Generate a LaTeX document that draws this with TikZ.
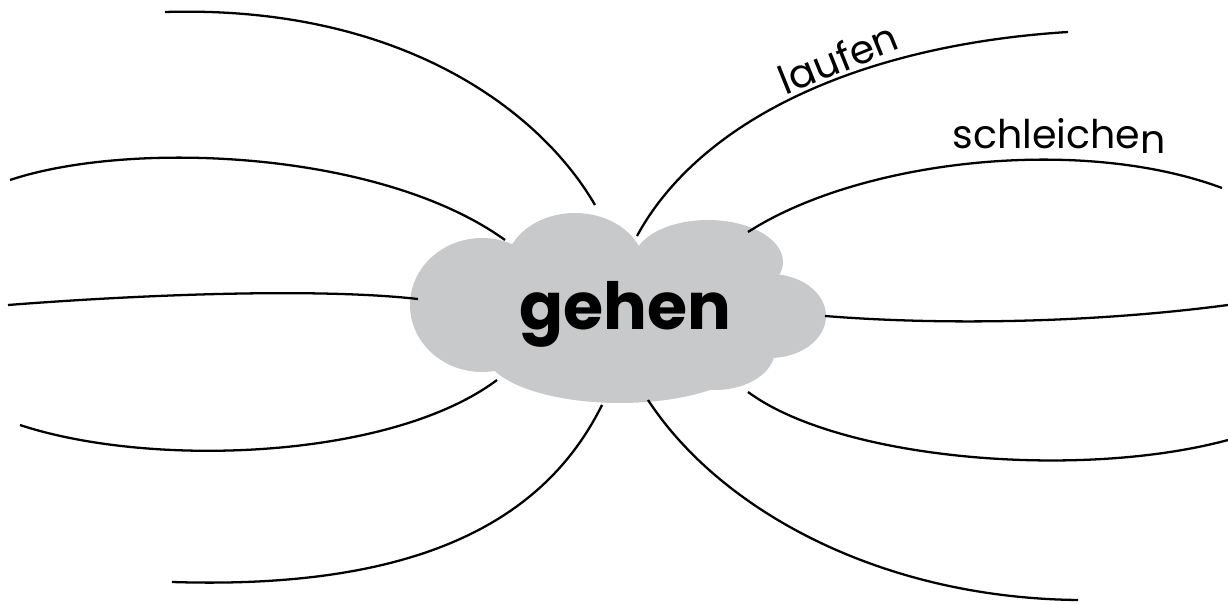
\documentclass[tikz,border=0pt]{standalone}
\usepackage{fontspec}
\setmainfont{Poppins}
\usetikzlibrary{positioning}
\definecolor{cloudgray}{RGB}{200,201,203}
\tikzset{branch/.style={line width=1.3pt, black},
         lobe/.style={fill=cloudgray, draw=none},
         word/.style={inner sep=0pt, font=\fontsize{22.5}{26}\selectfont}}

\begin{document}
\begin{tikzpicture}[x=0.02cm, y=-0.02cm]
\useasboundingbox (0,0) rectangle (1228,604);

% cloud
\fill[lobe] (482,305) ellipse [x radius=1.44cm, y radius=1.34cm];
\fill[lobe] (575,269) ellipse [x radius=1.40cm, y radius=1.12cm];
\fill[lobe] (708,262) ellipse [x radius=1.50cm, y radius=0.84cm];
\fill[lobe] (770,316) ellipse [x radius=1.12cm, y radius=0.84cm];
\fill[lobe] (620,352) ellipse [x radius=2.70cm, y radius=1.02cm];
\fill[lobe] (715,350) ellipse [x radius=1.20cm, y radius=0.80cm];
\fill[lobe] (520,268) rectangle (740,372);
\node[font=\bfseries\fontsize{37}{40}\selectfont] (gehen) at (625,314) {gehen};

% ends on the cloud
\coordinate (c1) at (595,205);
\coordinate (c2) at (505,240);
\coordinate (c3) at (418,299);
\coordinate (c4) at (497,380);
\coordinate (c5) at (602,405);
\coordinate (c6) at (637,236);
\coordinate (c7) at (748,232);
\coordinate (c8) at (825,316);
\coordinate (c9) at (748,392);
\coordinate (c10) at (648,400);
% free ends
\coordinate (e1) at (165,12);
\coordinate (e2) at (10,180);
\coordinate (e3) at (8,305);
\coordinate (e4) at (20,425);
\coordinate (e5) at (172,582);
\coordinate (e6) at (1068,32);
\coordinate (e7) at (1222,188);
\coordinate (e8) at (1228,305);
\coordinate (e9) at (1228,440);
\coordinate (e10) at (1078,600);

\draw[branch] (e1) .. controls (400,5) and (540,110) .. (c1);
\draw[branch] (e2) .. controls (130,140) and (380,150) .. (c2);
\draw[branch] (e3) .. controls (150,294) and (320,288) .. (c3);
\draw[branch] (e4) .. controls (150,468) and (390,460) .. (c4);
\draw[branch] (e5) .. controls (420,590) and (545,520) .. (c5);
\draw[branch] (c6) .. controls (700,120) and (860,45) .. (e6);
\draw[branch] (c7) .. controls (860,160) and (1080,135) .. (e7);
\draw[branch] (c8) .. controls (950,326) and (1100,322) .. (e8);
\draw[branch] (c9) .. controls (840,460) and (1080,480) .. (e9);
\draw[branch] (c10) .. controls (720,510) and (880,598) .. (e10);

\node[word, rotate=22] (laufen) at (838,58) {laufen};
\node[word] (schleichen) at (1059,136) {schleiche\raisebox{-3pt}{n}};
\end{tikzpicture}
\end{document}
